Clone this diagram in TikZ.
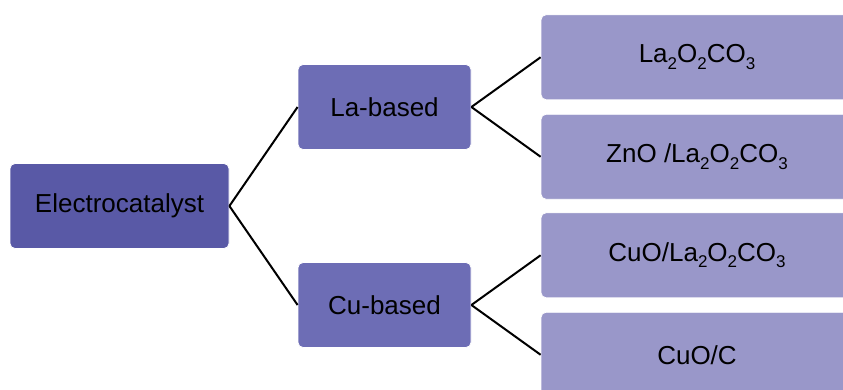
\documentclass[tikz,border=0pt]{standalone}
\usepackage{fontspec}
\setmainfont{Liberation Sans}
\definecolor{rootfill}{RGB}{89,89,166}
\definecolor{midfill}{RGB}{109,109,181}
\definecolor{leaffill}{RGB}{153,151,201}
\newcommand{\chemsub}[1]{\raisebox{-6.5pt}{\fontsize{17}{17}\selectfont #1}}

\begin{document}
\begin{tikzpicture}[x=1pt,y=1pt]
\tikzstyle{box}=[rectangle,rounded corners=5pt,draw=white,line width=0.8pt,text=black,font=\fontsize{26}{31}\selectfont,minimum height=85pt,inner sep=0pt]
\tikzstyle{rootbox}=[box,fill=rootfill,minimum width=219pt]
\tikzstyle{midbox}=[box,fill=midfill,minimum width=173pt]
\tikzstyle{leafbox}=[box,fill=leaffill,minimum width=312pt]
\tikzstyle{level 1}=[sibling distance=198pt,level distance=265pt]
\tikzstyle{level 2}=[sibling distance=99.5pt,level distance=312.5pt]
\tikzstyle{link}=[draw,black,line width=2pt]
\clip (0,0) rectangle (843,-389);
\node[rootbox] (cat) at (119.5,-206) {Electrocatalyst}
  [grow'=right,edge from parent/.style={link},parent anchor=east,child anchor=west]
  child {node[midbox] (la) {La-based}
    child {node[leafbox] (lao) {La\chemsub{2}O\chemsub{2}CO\chemsub{3}}}
    child {node[leafbox] (zno) {ZnO /La\chemsub{2}O\chemsub{2}CO\chemsub{3}}}
  }
  child {node[midbox] (cu) {Cu-based}
    child {node[leafbox] (cuola) {CuO/La\chemsub{2}O\chemsub{2}CO\chemsub{3}}}
    child {node[leafbox] (cuoc) {CuO/C}}
  }
;\end{tikzpicture}
\end{document}
